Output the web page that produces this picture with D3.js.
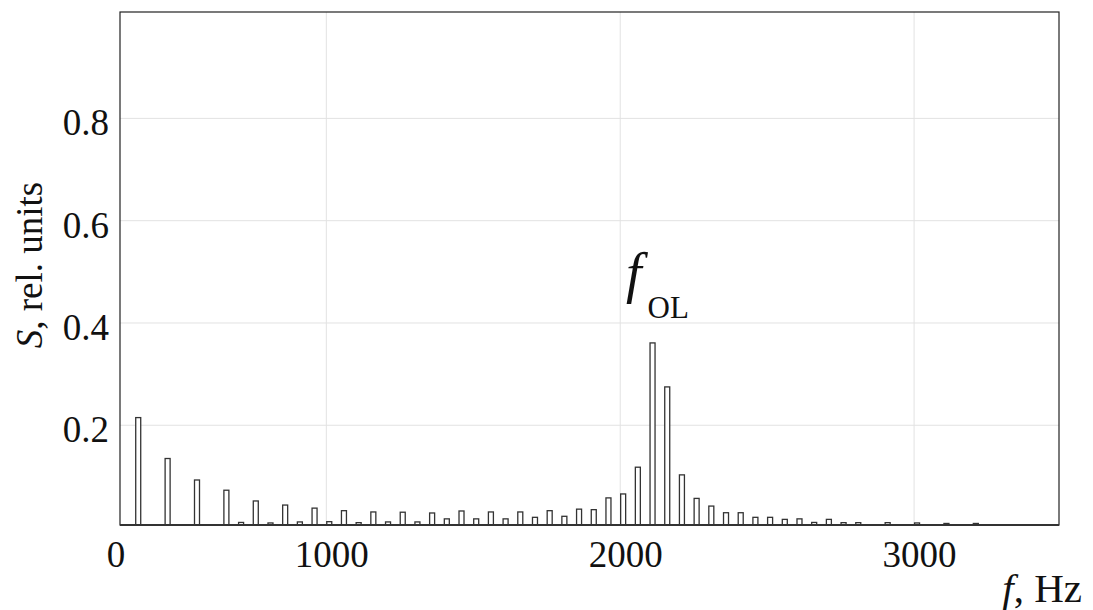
<!DOCTYPE html>
<html>
<head>
<meta charset="utf-8">
<script src="https://cdn.jsdelivr.net/npm/d3@7"></script>
<style>
  body { margin: 0; background: #fff; }
  svg { display: block; }
  text { font-family: "Liberation Serif", "Times New Roman", serif; fill: #111; }
</style>
</head>
<body>
<svg width="1093" height="610"></svg>
<script>
// spectrum lines (Hz) and their relative amplitude
const freqs = [360, 460, 560, 660, 710, 760, 810, 860, 910, 960,
  1010, 1060, 1110, 1160, 1210, 1260, 1310, 1360, 1410, 1460,
  1510, 1560, 1610, 1660, 1710, 1760, 1810, 1860, 1910, 1960,
  2010, 2060, 2110, 2160, 2210, 2260, 2310, 2360, 2410, 2460,
  2510, 2560, 2610, 2660, 2710, 2760, 2810, 2910, 3010, 3110, 3210];
const amps = [0.215, 0.135, 0.093, 0.073, 0.010, 0.052, 0.009, 0.044, 0.011, 0.038,
  0.0115, 0.033, 0.0096, 0.0305, 0.011, 0.030, 0.011, 0.0285, 0.017, 0.0324,
  0.017, 0.0305, 0.017, 0.0305, 0.020, 0.033, 0.022, 0.036, 0.035, 0.058,
  0.0657, 0.118, 0.361, 0.275, 0.103, 0.057, 0.042, 0.029, 0.029, 0.020,
  0.020, 0.016, 0.017, 0.010, 0.016, 0.0096, 0.0096, 0.0096, 0.009, 0.008, 0.008];

const xGrid = [1000, 2000, 3000];
const xTickLabels = ["0", "1000", "2000", "3000"];
const yTicks = [0.2, 0.4, 0.6, 0.8];

const svg = d3.select("svg");
const pl = 120, pr = 1059, pt = 12, pb = 525;

const x = d3.scaleLinear().domain([298, 3493]).range([pl, pr]);
const y = d3.scaleLinear().domain([0.005, 1.008]).range([pb, pt]);

// grid
svg.append("g").selectAll("line").data(yTicks).join("line")
  .attr("x1", pl).attr("x2", pr)
  .attr("y1", d => y(d)).attr("y2", d => y(d))
  .attr("stroke", "#e2e2e2").attr("stroke-width", 1);
svg.append("g").selectAll("line").data(xGrid).join("line")
  .attr("x1", d => x(d)).attr("x2", d => x(d))
  .attr("y1", pt).attr("y2", pb)
  .attr("stroke", "#e2e2e2").attr("stroke-width", 1);

// bars
const bw = 5;
svg.append("g").selectAll("rect").data(freqs).join("rect")
  .attr("x", d => x(d) - bw / 2)
  .attr("y", (d, i) => y(amps[i]))
  .attr("width", bw)
  .attr("height", (d, i) => y(0.005) - y(amps[i]))
  .attr("fill", "#fff")
  .attr("stroke", "#333")
  .attr("stroke-width", 1.3);

// frame
svg.append("rect")
  .attr("x", pl).attr("y", pt)
  .attr("width", pr - pl).attr("height", pb - pt)
  .attr("fill", "none").attr("stroke", "#222").attr("stroke-width", 1.2);
svg.append("line")
  .attr("x1", pl).attr("x2", pr).attr("y1", pb).attr("y2", pb)
  .attr("stroke", "#333").attr("stroke-width", 2);

// y tick labels
svg.append("g").selectAll("text").data(yTicks).join("text")
  .attr("x", 109)
  .attr("y", d => y(d) + 17)
  .attr("text-anchor", "end")
  .attr("font-size", 37)
  .text(d => d.toFixed(1));

// x tick labels
const xTickPos = [x.domain()[0], 1000, 2000, 3000];
svg.append("g").selectAll("text").data(xTickLabels).join("text")
  .attr("x", (d, i) => x(xTickPos[i]) + (i === 0 ? -4 : 5.5))
  .attr("y", 567)
  .attr("text-anchor", "middle")
  .attr("font-size", 37)
  .text(d => d);

// axis titles
const xt = svg.append("text")
  .attr("x", 1082).attr("y", 602)
  .attr("text-anchor", "end")
  .attr("font-size", 41);
xt.append("tspan").attr("font-style", "italic").text("f");
xt.append("tspan").text(", Hz");

const yt = svg.append("text")
  .attr("transform", "translate(42,265) rotate(-90)")
  .attr("text-anchor", "middle")
  .attr("font-size", 37);
yt.append("tspan").attr("font-style", "italic").text("S");
yt.append("tspan").text(", rel. units");

// peak annotation
const ann = svg.append("text").attr("x", 626).attr("y", 292);
ann.append("tspan").attr("font-style", "italic").attr("font-size", 56).text("f");
ann.append("tspan").attr("font-size", 31).attr("dx", 6).attr("dy", 26).text("OL");
</script>
</body>
</html>
